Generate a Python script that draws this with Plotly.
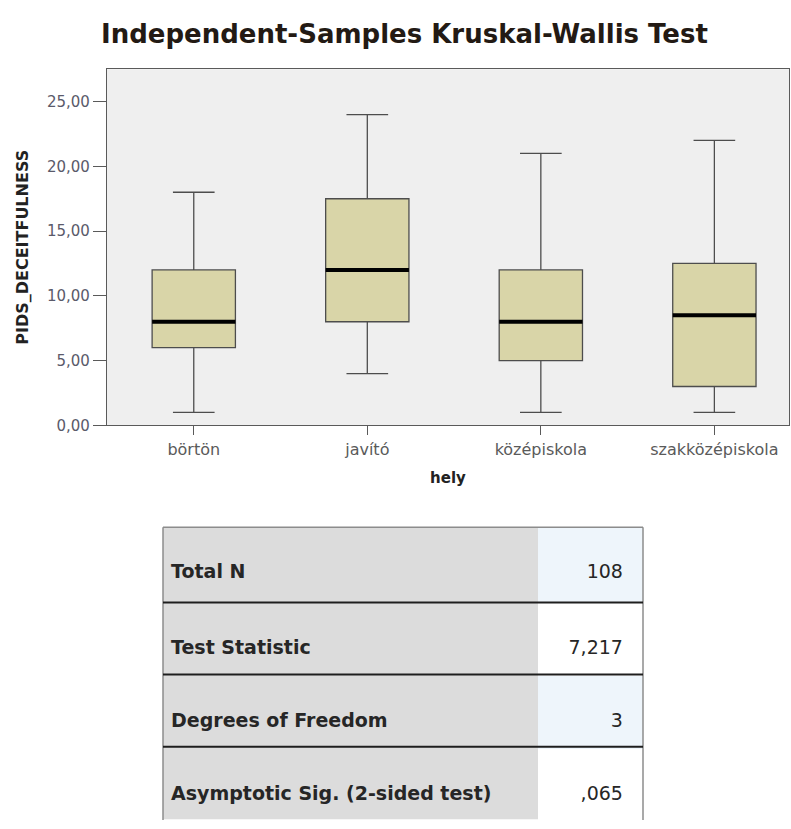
import plotly.graph_objects as go

# box statistics
groups = ["börtön", "javító", "középiskola", "szakközépiskola"]
lower = [1, 4, 1, 1]
q1 = [6, 8, 5, 3]
median = [8, 12, 8, 8.5]
q3 = [12, 17.5, 12, 12.5]
upper = [18, 24, 21, 22]

y_ticks = [0, 5, 10, 15, 20, 25]

# test summary table
row_labels = ["Total N", "Test Statistic", "Degrees of Freedom", "Asymptotic Sig. (2-sided test)"]
row_values = ["108", "7,217", "3", ",065"]

W, H = 791, 829
BOX_FILL = "#d9d5a8"
EDGE = "#4d4d4d"
NB = "\u00a0"


def px(x):
    return x / W


def py(y):
    return 1 - y / H


fig = go.Figure()

fig.add_trace(
    go.Box(
        x=groups,
        q1=q1,
        median=median,
        q3=q3,
        lowerfence=lower,
        upperfence=upper,
        fillcolor=BOX_FILL,
        line=dict(color=EDGE, width=1.3),
        width=0.48,
        whiskerwidth=0.5,
        boxpoints=False,
        hoverinfo="skip",
    )
)

# thick median bar drawn as a flat box over the first one
fig.add_trace(
    go.Box(
        x=groups,
        q1=median,
        median=median,
        q3=median,
        lowerfence=median,
        upperfence=median,
        fillcolor="rgba(0,0,0,0)",
        line=dict(color="black", width=4),
        width=0.48,
        whiskerwidth=0,
        boxpoints=False,
        hoverinfo="skip",
    )
)

label_col = [NB + "<br><b>%s</b>" % s for s in row_labels]
value_col = [NB + "<br>%s%s%s" % (s, NB, NB) for s in row_values]
value_fill = ["#eef5fb", "#ffffff", "#eef5fb", "#ffffff"]
T_X0, T_X1, T_TOP, HEAD_H, ROW_H = 163, 643, 533, 76, 73

tfont = dict(family="DejaVu Sans", size=19, color="#262626")
fig.add_trace(
    go.Table(
        domain=dict(x=[px(T_X0), px(T_X1)], y=[0, py(T_TOP)]),
        columnwidth=[375, 105],
        header=dict(
            values=[label_col[0], value_col[0]],
            fill_color=["#dcdcdc", value_fill[0]],
            align=["left", "right"],
            height=HEAD_H,
            line=dict(color="rgba(0,0,0,0)", width=0),
            font=tfont,
        ),
        cells=dict(
            values=[label_col[1:], value_col[1:]],
            fill_color=[["#dcdcdc"] * 3, value_fill[1:]],
            align=["left", "right"],
            height=ROW_H,
            line=dict(color="rgba(0,0,0,0)", width=0),
            font=tfont,
        ),
    )
)

# table frame (open at the bottom, the table runs off the page) and row separators
frame = dict(color="#8c8c8c", width=1.5)
fig.add_shape(type="line", xref="paper", yref="paper",
              x0=px(T_X0), x1=px(T_X1), y0=py(T_TOP), y1=py(T_TOP), line=frame)
fig.add_shape(type="line", xref="paper", yref="paper",
              x0=px(T_X0), x1=px(T_X0), y0=0, y1=py(T_TOP), line=frame)
fig.add_shape(type="line", xref="paper", yref="paper",
              x0=px(T_X1), x1=px(T_X1), y0=0, y1=py(T_TOP), line=frame)
for i in range(1, len(row_labels)):
    yy = py(T_TOP + HEAD_H + ROW_H * (i - 1))
    fig.add_shape(
        type="line", xref="paper", yref="paper",
        x0=px(T_X0), x1=px(T_X1), y0=yy, y1=yy,
        line=dict(color="#1e1e1e", width=2),
    )

fig.update_layout(
    width=W,
    height=H,
    margin=dict(l=0, r=0, t=0, b=0),
    paper_bgcolor="white",
    plot_bgcolor="#efefef",
    showlegend=False,
    boxmode="overlay",
    separators=", ",
    font=dict(family="DejaVu Sans", color="#555555"),
    title=dict(
        text="<b>Independent-Samples Kruskal-Wallis Test</b>",
        x=px(101),
        xanchor="left",
        y=py(34),
        yanchor="middle",
        font=dict(family="DejaVu Sans", size=26, color="#231a14"),
    ),
)

fig.update_xaxes(
    domain=[px(107), px(789)],
    range=[-0.5, 3.43],
    showline=True,
    linecolor="#5a5a5a",
    linewidth=1.3,
    mirror=True,
    ticks="outside",
    ticklen=9,
    tickcolor="#5a5a5a",
    tickfont=dict(size=16, color="#5a5a5a"),
    title=dict(text="<b>hely</b>", font=dict(size=15, color="#222222"), standoff=14),
    showgrid=False,
)

fig.update_yaxes(
    domain=[py(430), py(70)],
    range=[0, 27.5],
    tickvals=y_ticks,
    tickformat=".2f",
    showline=True,
    linecolor="#5a5a5a",
    linewidth=1.3,
    mirror=True,
    ticks="outside",
    ticklen=13,
    tickcolor="#5a5a5a",
    tickfont=dict(size=15, color="#5a5a6a"),
    title=dict(text="<b>PIDS_DECEITFULNESS</b>", font=dict(size=16, color="#222222"), standoff=14),
    showgrid=False,
    zeroline=False,
)

# drop the page's default body margin so the figure sits at the window corner
fig.write_html(
    "out.html",
    config={"displayModeBar": False},
    post_script="document.body.style.margin='0';document.body.style.overflow='hidden';",
)
